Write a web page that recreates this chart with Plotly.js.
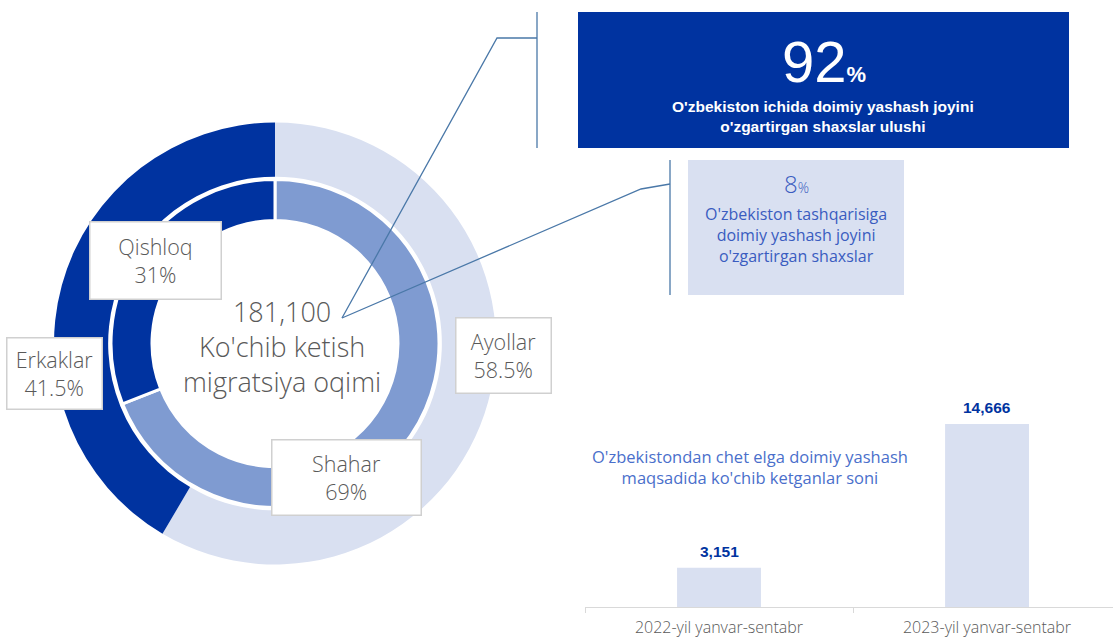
<!DOCTYPE html>
<html>
<head>
<meta charset="utf-8">
<script src="https://cdn.plot.ly/plotly-3.0.1.min.js"></script>
<style>html,body{margin:0;padding:0;background:#fff;}#chart{width:1113px;height:639px;}</style>
</head>
<body>
<div id="chart"></div>
<script>
// ---- data ----
const genderLabels = ["Ayollar", "Erkaklar"];
const genderValues = [58.5, 41.5];
const areaLabels = ["Shahar", "Qishloq"];
const areaValues = [69, 31];
const totalFlow = "181,100";
const centerLines = ["Ko'chib ketish", "migratsiya oqimi"];
const insideShare = 92;
const insideText = ["O'zbekiston ichida doimiy yashash joyini", "o'zgartirgan shaxslar ulushi"];
const abroadShare = 8;
const abroadText = ["O'zbekiston tashqarisiga", "doimiy yashash joyini", "o'zgartirgan shaxslar"];
const barCategories = ["2022-yil yanvar-sentabr", "2023-yil yanvar-sentabr"];
const barValues = [3151, 14666];
const barTitle = ["O'zbekistondan chet elga doimiy yashash", "maqsadida ko'chib ketganlar soni"];

// ---- layout helpers ----
const W = 1113, H = 639;
const fx = x => x / W;
const fy = y => 1 - y / H;

const DARK = "#0033a0", MID = "#7f9bd1", LIGHT = "#d9e0f1";
const GRAY = "#595959", LINE = "#4a78a8";
const OPEN = "Open Sans, sans-serif";
const ARIAL = "Liberation Sans, Arial, sans-serif";

const outer = {
  type: "pie", labels: genderLabels, values: genderValues, sort: false,
  direction: "clockwise", rotation: 0, hole: 0.755, textinfo: "none", hoverinfo: "none",
  marker: {colors: [LIGHT, DARK], line: {width: 0}},
  domain: {x: [fx(54), fx(496)], y: [fy(564.5), fy(122.5)]}, showlegend: false
};
const inner = {
  type: "pie", labels: areaLabels, values: areaValues, sort: false,
  direction: "clockwise", rotation: 0, hole: 0.75, textinfo: "none", hoverinfo: "none",
  marker: {colors: [MID, DARK], line: {width: 3, color: "#ffffff"}},
  domain: {x: [fx(111), fx(439)], y: [fy(507.5), fy(179.5)]}, showlegend: false
};
const bars = {
  type: "bar", x: barCategories, y: barValues, width: 0.313,
  marker: {color: LIGHT}, xaxis: "x", yaxis: "y",
  hoverinfo: "none", showlegend: false
};

function boxLabel(cx, cy, w, h, name, pct) {
  return {
    xref: "paper", yref: "paper", x: fx(cx), y: fy(cy), xanchor: "center", yanchor: "middle",
    text: name + "<br>" + pct + "%", showarrow: false, align: "center",
    font: {family: OPEN, size: 21.5, color: GRAY, weight: 300},
    bgcolor: "#ffffff", bordercolor: "#d0d0d0", borderwidth: 1.5,
    width: w, height: h
  };
}

const valueLabels = barCategories.map((c, i) => ({
  xref: "x", yref: "y", x: c, y: barValues[i], xanchor: "center", yanchor: "bottom",
  yshift: 6, text: barValues[i].toLocaleString("en-US"), showarrow: false,
  font: {family: ARIAL, size: 15.5, color: DARK, weight: "bold"}
}));

const annotations = [
  boxLabel(155, 260, 128, 74, areaLabels[1], areaValues[1]),
  boxLabel(54, 373, 92, 68, genderLabels[1], genderValues[1]),
  boxLabel(503, 355, 92, 72, genderLabels[0], genderValues[0]),
  boxLabel(346, 477, 146, 72, areaLabels[0], areaValues[0]),
  {xref: "paper", yref: "paper", x: fx(282), y: fy(347), xanchor: "center", yanchor: "middle",
   text: totalFlow + "<br>" + centerLines.join("<br>"), showarrow: false,
   font: {family: OPEN, size: 27, color: GRAY, weight: 300}},
  {xref: "paper", yref: "paper", x: fx(824), y: fy(62), xanchor: "center", yanchor: "middle",
   text: insideShare + "<span style='font-size:22px;font-weight:bold'>%</span>", showarrow: false,
   font: {family: ARIAL, size: 58, color: "#ffffff"}},
  {xref: "paper", yref: "paper", x: fx(823), y: fy(117), xanchor: "center", yanchor: "middle",
   text: insideText.join("<br>"), showarrow: false,
   font: {family: ARIAL, size: 15.5, color: "#ffffff", weight: "bold"}},
  {xref: "paper", yref: "paper", x: fx(796), y: fy(183), xanchor: "center", yanchor: "middle",
   text: abroadShare + "<span style='font-size:14px'>%</span>", showarrow: false,
   font: {family: OPEN, size: 24, color: "#3a5cc0", weight: 300}},
  {xref: "paper", yref: "paper", x: fx(796), y: fy(235), xanchor: "center", yanchor: "middle",
   text: abroadText.join("<br>"), showarrow: false,
   font: {family: OPEN, size: 16, color: "#3a5cc0"}},
  {xref: "paper", yref: "paper", x: fx(750), y: fy(467), xanchor: "center", yanchor: "middle",
   text: barTitle.join("<br>"), showarrow: false,
   font: {family: OPEN, size: 16.5, color: "#4a6fcb"}}
].concat(valueLabels);

const shapes = [
  {type: "rect", xref: "paper", yref: "paper", x0: fx(578), x1: fx(1069), y0: fy(148), y1: fy(12),
   fillcolor: DARK, line: {width: 0}, layer: "below"},
  {type: "rect", xref: "paper", yref: "paper", x0: fx(688), x1: fx(904), y0: fy(295), y1: fy(160),
   fillcolor: LIGHT, line: {width: 0}, layer: "below"},
  {type: "path", xref: "paper", yref: "paper",
   path: `M ${fx(342)} ${fy(318)} L ${fx(497)} ${fy(38)} L ${fx(537)} ${fy(38)}`,
   line: {color: LINE, width: 1.3}},
  {type: "line", xref: "paper", yref: "paper", x0: fx(537), x1: fx(537), y0: fy(12), y1: fy(148),
   line: {color: LINE, width: 1.3}},
  {type: "path", xref: "paper", yref: "paper",
   path: `M ${fx(342)} ${fy(318)} L ${fx(641)} ${fy(189)} L ${fx(670)} ${fy(184)}`,
   line: {color: LINE, width: 1.3}},
  {type: "line", xref: "paper", yref: "paper", x0: fx(670), x1: fx(670), y0: fy(160), y1: fy(295),
   line: {color: LINE, width: 1.3}}
];

const layout = {
  width: W, height: H, margin: {l: 0, r: 0, t: 0, b: 0},
  paper_bgcolor: "#ffffff", plot_bgcolor: "rgba(0,0,0,0)",
  showlegend: false,
  xaxis: {domain: [fx(585), 1], range: [-0.5, 1.47], type: "category",
          showline: true, linecolor: "#d9d9d9", linewidth: 1,
          ticks: "outside", tickson: "boundaries", ticklen: 5, tickcolor: "#d9d9d9",
          tickfont: {family: OPEN, size: 16, color: GRAY, weight: 300}, ticklabelstandoff: 6,
          showgrid: false, zeroline: false, fixedrange: true},
  yaxis: {domain: [fy(607), fy(407.4)], range: [0, 16000], visible: false,
          showgrid: false, zeroline: false, fixedrange: true},
  annotations: annotations, shapes: shapes
};

Plotly.newPlot("chart", [outer, inner, bars], layout, {staticPlot: true, displayModeBar: false});
</script>
</body>
</html>
